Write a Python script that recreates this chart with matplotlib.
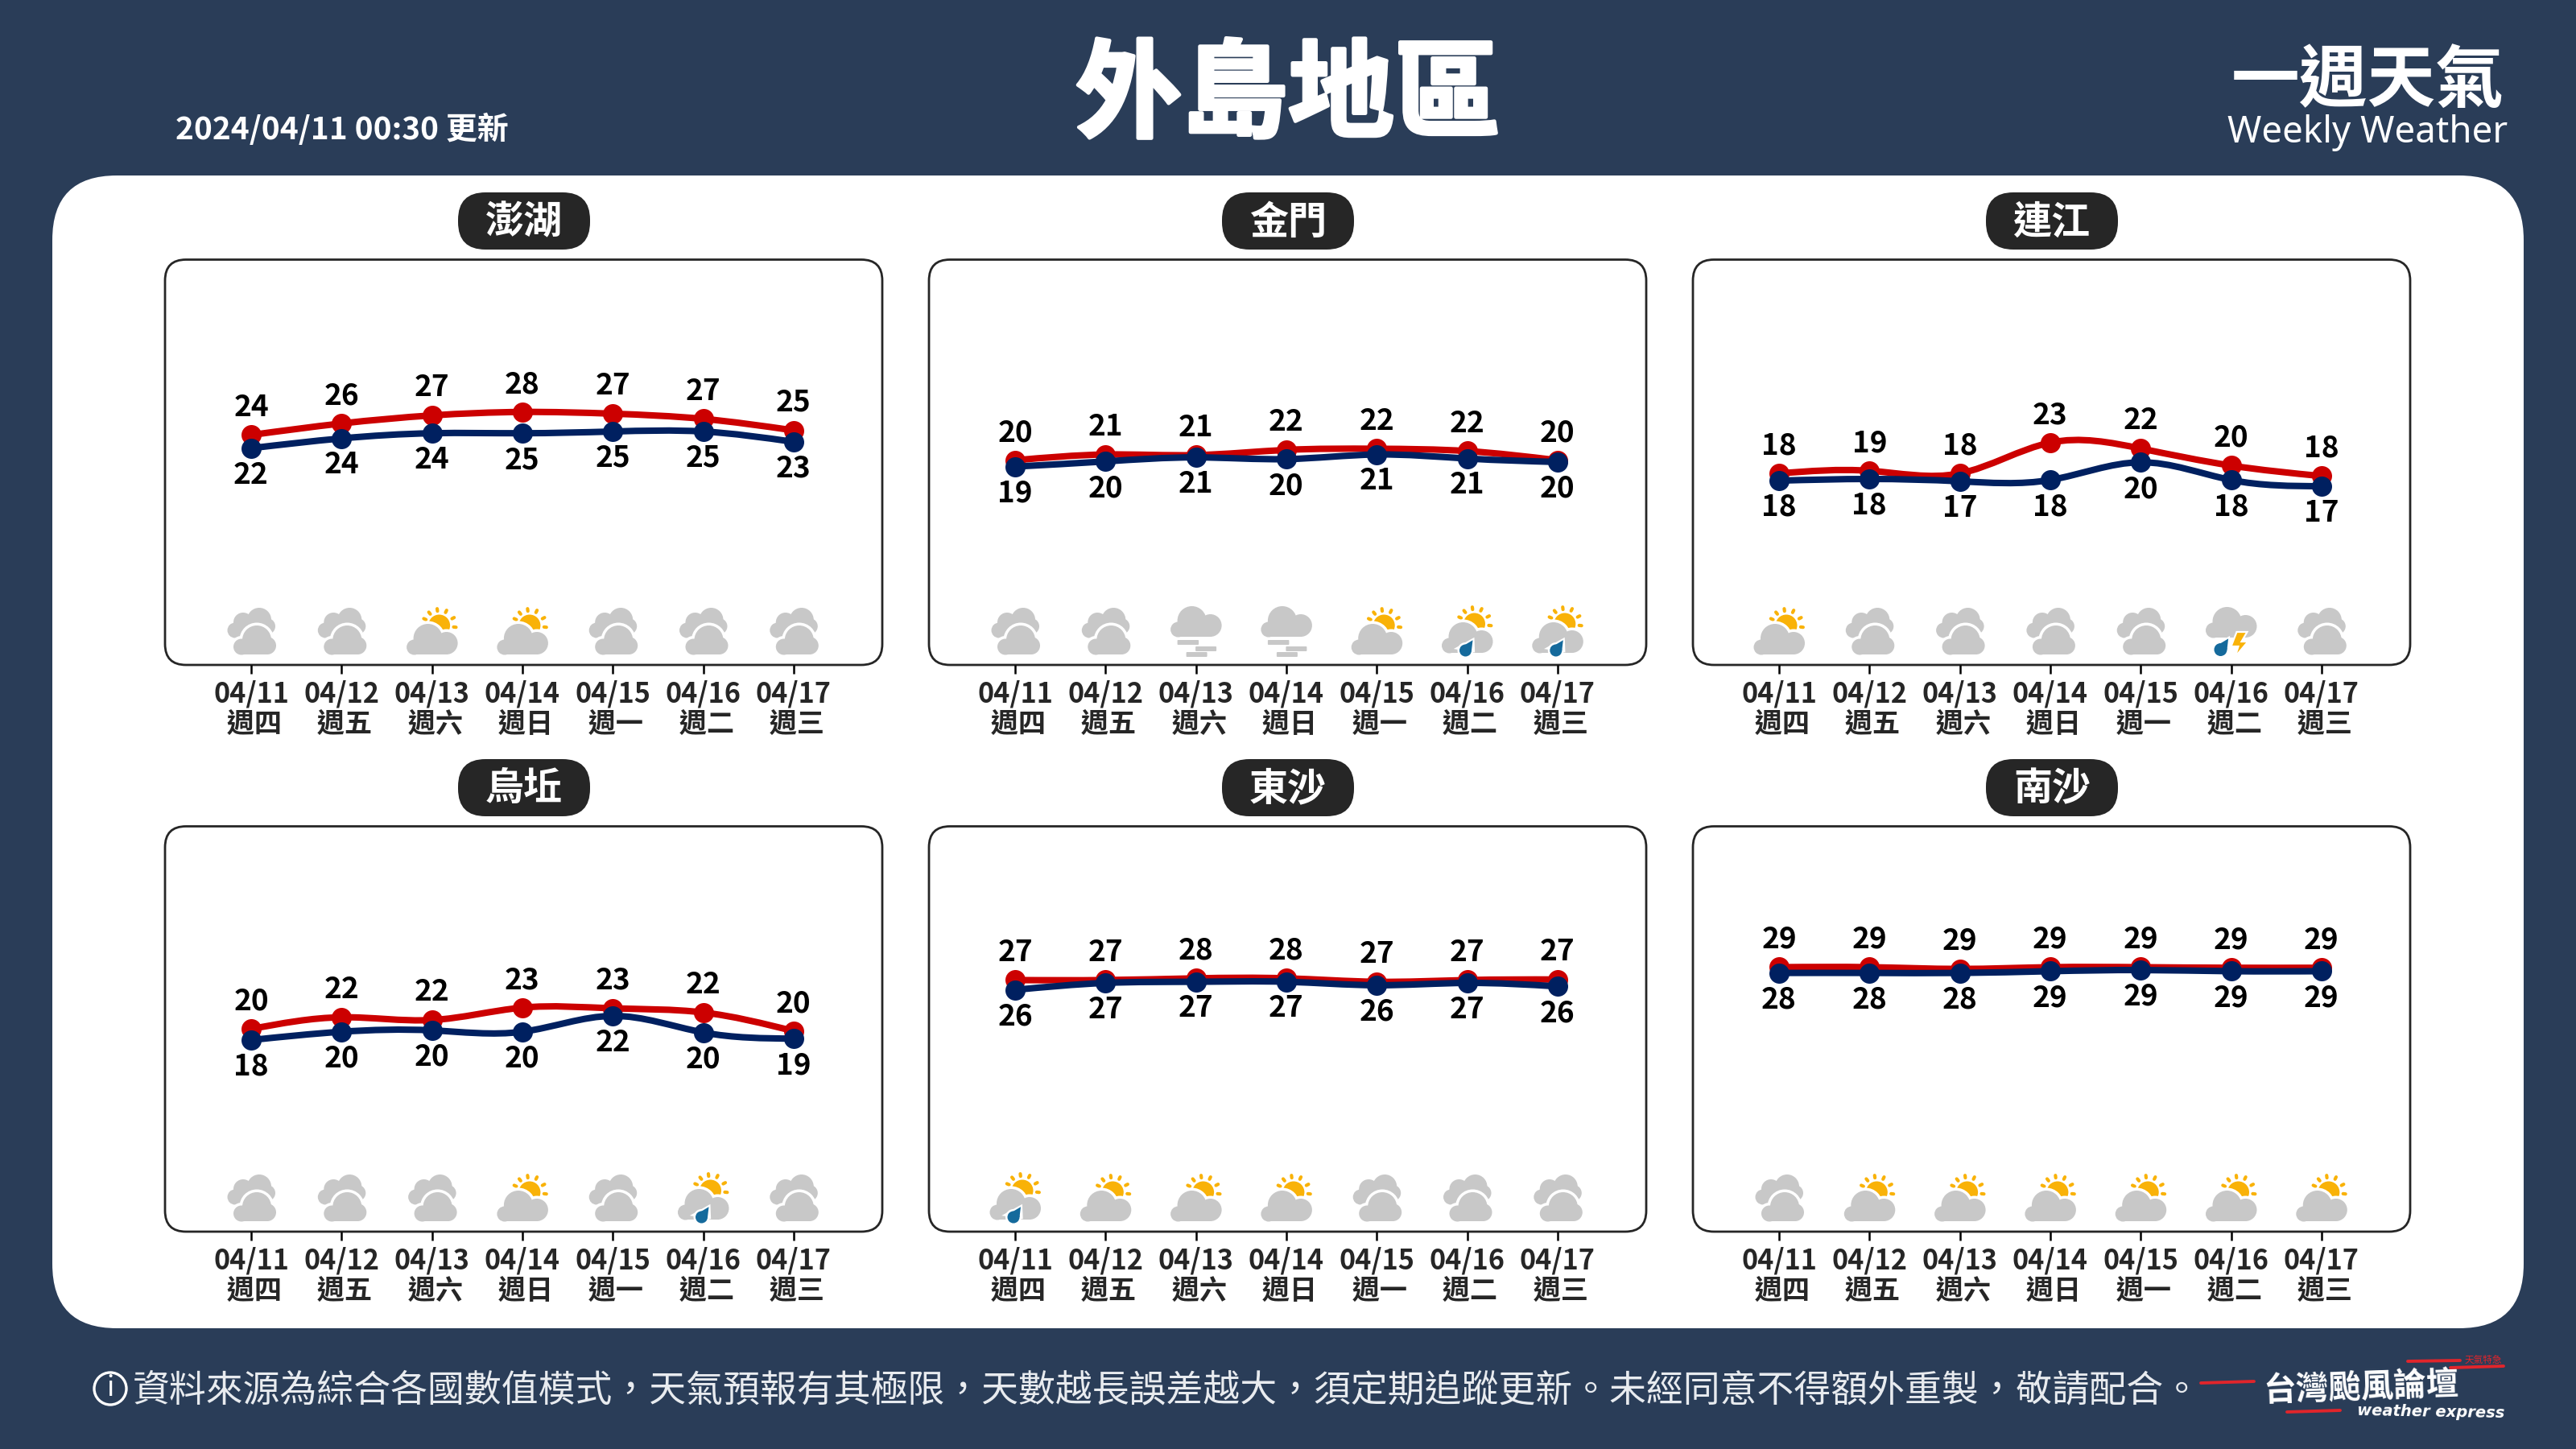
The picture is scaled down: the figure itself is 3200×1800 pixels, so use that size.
#!/usr/bin/env python3
# -*- coding: utf-8 -*-
"""外島地區 一週天氣"""

import numpy as np
import matplotlib
matplotlib.use('Agg')
import matplotlib.pyplot as plt
from matplotlib.patches import Circle, FancyBboxPatch, PathPatch, Polygon, Rectangle
from matplotlib.path import Path
import matplotlib.patheffects as pe

plt.rcParams['font.family'] = ['Noto Sans CJK TC', 'DejaVu Sans']

# ============================================================
# 資料
# ============================================================
dates = ['04/11', '04/12', '04/13', '04/14', '04/15', '04/16', '04/17']
weekdays = ['週四', '週五', '週六', '週日', '週一', '週二', '週三']

names = ['澎湖', '金門', '連江', '烏坵', '東沙', '南沙']

penghu_hi = [24.3, 26.3, 27.7, 28.3, 28.0, 27.1, 25.1]
penghu_lo = [22.0, 23.7, 24.6, 24.6, 24.9, 24.9, 23.1]
kinmen_hi = [20.0, 21.0, 20.9, 21.8, 22.0, 21.6, 20.0]
kinmen_lo = [18.9, 19.8, 20.5, 20.2, 21.0, 20.3, 19.7]
lienchiang_hi = [18.4, 18.8, 18.4, 23.1, 22.2, 19.6, 18.0]
lienchiang_lo = [17.3, 17.55, 17.2, 17.4, 20.1, 17.4, 16.45]
wuqiu_hi = [20.4, 22.1, 21.7, 23.5, 23.4, 22.8, 20.1]
wuqiu_lo = [18.8, 20.0, 20.2, 20.0, 22.3, 19.9, 19.0]
dongsha_hi = [27.3, 27.3, 27.6, 27.6, 27.0, 27.3, 27.4]
dongsha_lo = [25.6, 26.8, 27.0, 27.0, 26.4, 26.8, 26.2]
nansha_hi = [29.0, 29.0, 28.7, 29.0, 29.0, 28.9, 28.9]
nansha_lo = [28.0, 28.0, 28.0, 28.3, 28.5, 28.3, 28.3]

penghu_hi_lab = [24, 26, 27, 28, 27, 27, 25]
penghu_lo_lab = [22, 24, 24, 25, 25, 25, 23]
kinmen_hi_lab = [20, 21, 21, 22, 22, 22, 20]
kinmen_lo_lab = [19, 20, 21, 20, 21, 21, 20]
lienchiang_hi_lab = [18, 19, 18, 23, 22, 20, 18]
lienchiang_lo_lab = [18, 18, 17, 18, 20, 18, 17]
wuqiu_hi_lab = [20, 22, 22, 23, 23, 22, 20]
wuqiu_lo_lab = [18, 20, 20, 20, 22, 20, 19]
dongsha_hi_lab = [27, 27, 28, 28, 27, 27, 27]
dongsha_lo_lab = [26, 27, 27, 27, 26, 27, 26]
nansha_hi_lab = [29, 29, 29, 29, 29, 29, 29]
nansha_lo_lab = [28, 28, 28, 29, 29, 29, 29]

highs = [penghu_hi, kinmen_hi, lienchiang_hi, wuqiu_hi, dongsha_hi, nansha_hi]
lows = [penghu_lo, kinmen_lo, lienchiang_lo, wuqiu_lo, dongsha_lo, nansha_lo]
high_labels = [penghu_hi_lab, kinmen_hi_lab, lienchiang_hi_lab, wuqiu_hi_lab, dongsha_hi_lab, nansha_hi_lab]
low_labels = [penghu_lo_lab, kinmen_lo_lab, lienchiang_lo_lab, wuqiu_lo_lab, dongsha_lo_lab, nansha_lo_lab]

# cc 多雲 / sc 晴時多雲 / sr 午後雨 / fg 霧 / tr 雷雨
icons = [
    ['cc', 'cc', 'sc', 'sc', 'cc', 'cc', 'cc'],
    ['cc', 'cc', 'fg', 'fg', 'sc', 'sr', 'sr'],
    ['sc', 'cc', 'cc', 'cc', 'cc', 'tr', 'cc'],
    ['cc', 'cc', 'cc', 'sc', 'cc', 'sr', 'cc'],
    ['sr', 'sc', 'sc', 'sc', 'cc', 'cc', 'cc'],
    ['cc', 'sc', 'sc', 'sc', 'sc', 'sc', 'sc'],
]

y_limits = [(-15.7, 54.8), (-15.6, 54.9), (-10.8, 51), (-9, 49.8), (-16.4, 54), (-17, 53.5)]

BG = '#2A3D58'
RED = '#CC0000'
NAVY = '#002060'
GRAY = '#C8C8C8'
SUN = '#F9B208'
BLUE = '#156A9C'
DARK = '#262626'

W, H = 3200, 1800
STEP = 112.3

fig = plt.figure(figsize=(16, 9), dpi=200, facecolor=BG)
bg = fig.add_axes([0, 0, 1, 1], zorder=0)
bg.set_xlim(0, W)
bg.set_ylim(H, 0)
bg.axis('off')


def round_box(x0, y0, x1, y1, r, **kw):
    p = FancyBboxPatch((x0 + r, y0 + r), x1 - x0 - 2 * r, y1 - y0 - 2 * r,
                       boxstyle=f'round,pad={r},rounding_size={r}', **kw)
    bg.add_patch(p)
    return p


def blob(cx, lobes, rect, z, halo=False):
    # lobes: (dx, y, r)，rect: (dx0, dx1, y0, y1)
    x0, x1, y0, y1 = rect
    if halo:
        for a, b, r in lobes:
            bg.add_patch(Circle((cx + a, b), r + 3.5, fc='white', ec='none', zorder=z))
        bg.add_patch(Rectangle((cx + x0 - 3, y0), x1 - x0 + 6, y1 - y0 + 3, fc='white', ec='none', zorder=z))
    for a, b, r in lobes:
        bg.add_patch(Circle((cx + a, b), r, fc=GRAY, ec='none', zorder=z + 0.1))
    bg.add_patch(Rectangle((cx + x0, y0), x1 - x0, y1 - y0, fc=GRAY, ec='none', zorder=z + 0.1))


def cloud(cx, b, z, halo=False):
    blob(cx, [(-5, b - 20, 18), (18, b - 14, 14), (-22, b - 9, 9.5)], (-22, 18, b - 16, b), z, halo)


def sun(cx, cy, z):
    bg.add_patch(Circle((cx, cy), 13.5, fc=SUN, ec='none', zorder=z))
    for a in np.deg2rad([-6, 28, 64, 97, 128, 156]):
        bg.plot([cx + 18 * np.cos(a), cx + 21 * np.cos(a)], [cy - 18 * np.sin(a), cy - 21 * np.sin(a)],
                color=SUN, lw=1.5, solid_capstyle='round', zorder=z)


def drop(cx, cy, r, z):
    tip = (cx + r * 1.2, cy - r * 1.7)
    bg.add_patch(Circle((cx, cy), r + 2.5, fc='white', ec='none', zorder=z))
    bg.add_patch(Polygon([(cx - r - 1, cy - 3), tip, (cx + r + 2, cy)], fc='white', ec='white', lw=1.5, zorder=z))
    bg.add_patch(Circle((cx, cy), r, fc=BLUE, ec='none', zorder=z + 0.1))
    bg.add_patch(Polygon([(cx - r * 0.9, cy - r * 0.45), tip, (cx + r, cy)], fc=BLUE, ec='none', zorder=z + 0.1))


def draw_icon(kind, cx, dy):
    if kind == 'cc':
        blob(cx, [(10, 770 + dy, 15), (-10, 773 + dy, 12), (-20, 783 + dy, 9.5), (20, 778 + dy, 10)],
             (-20, 20, 775 + dy, 792 + dy), 2)
        blob(cx, [(7, 795 + dy, 18), (20, 802 + dy, 11), (-12, 803.5 + dy, 10)],
             (-12, 20, 800 + dy, 813 + dy), 3, halo=True)
    elif kind == 'sc':
        sun(cx + 9, 777 + dy, 2)
        cloud(cx, 813 + dy, 3, halo=True)
    elif kind == 'sr':
        sun(cx + 9, 775 + dy, 2)
        cloud(cx, 811 + dy, 3, halo=True)
        drop(cx - 2, 808 + dy, 7.5, 4)
    elif kind == 'fg':
        cloud(cx, 791 + dy, 2)
        for x0, x1, y0 in [(-23, 3.5, 795), (-0.5, 25.5, 803), (-12, 14, 810)]:
            bg.add_patch(FancyBboxPatch((cx + x0 + 1, y0 + dy + 1), x1 - x0 - 2, 4,
                                        boxstyle='round,pad=1,rounding_size=1', fc=GRAY, ec='none', zorder=2))
    elif kind == 'tr':
        cloud(cx, 792 + dy, 2)
        drop(cx - 13, 807 + dy, 8, 4)
        bolt = [(7, 785), (20, 785), (13, 797), (21, 797), (5, 816), (9, 803), (0, 803)]
        bg.add_patch(Polygon([(cx + a, b + dy) for a, b in bolt], fc=SUN, ec='white', lw=0.8, zorder=4))


def smooth_path(x, y):
    # 自然三次樣條，轉成 Bezier 後交給 PathPatch
    x, y = np.asarray(x, float), np.asarray(y, float)
    n = len(x)
    A = np.zeros((n, n))
    B = np.zeros(n)
    A[0, 0], A[0, 1], B[0] = 2, 1, 3 * (y[1] - y[0])
    A[-1, -1], A[-1, -2], B[-1] = 2, 1, 3 * (y[-1] - y[-2])
    for i in range(1, n - 1):
        A[i, i - 1], A[i, i], A[i, i + 1] = 1, 4, 1
        B[i] = 3 * (y[i + 1] - y[i - 1])
    d = np.linalg.solve(A, B)
    verts = [(x[0], y[0])]
    codes = [Path.MOVETO]
    for i in range(n - 1):
        verts += [(x[i] + 1 / 3, y[i] + d[i] / 3), (x[i + 1] - 1 / 3, y[i + 1] - d[i + 1] / 3), (x[i + 1], y[i + 1])]
        codes += [Path.CURVE4] * 3
    return Path(verts, codes)


# ============================================================
# 底圖與標題
# ============================================================
round_box(65, 218, 3135, 1650, 80, fc='white', ec='none', zorder=0.5)

bg.text(1600, 121, '外島地區', color='white', fontsize=47.5, fontweight='bold', ha='center', va='center',
        path_effects=[pe.withStroke(linewidth=1.6, foreground='white')])
bg.text(218, 161, '2024/04/11 00:30 更新', color='white', fontsize=14, fontweight='bold', ha='left', va='center')
bg.text(2941, 101, '一週天氣', color='white', fontsize=30.5, fontweight='bold', ha='center', va='center')
bg.text(2941, 177, 'Weekly Weather', color='white', fontsize=16.4, family=['Noto Sans', 'DejaVu Sans'],
        ha='center', va='baseline')

bg.add_patch(Circle((137, 1725), 20, fc='none', ec='white', lw=1.2))
bg.text(137, 1725, 'i', color='white', fontsize=12, ha='center', va='center')
bg.text(165, 1727, '資料來源為綜合各國數值模式，天氣預報有其極限，天數越長誤差越大，須定期追蹤更新。未經同意不得額外重製，敬請配合。',
        color='#E8EBEF', fontsize=16.5, ha='left', va='center')

bg.text(2933, 1724, '台灣颱風論壇', color='white', fontsize=14.6, fontweight='bold', rotation=2, ha='center', va='center')
bg.text(3020, 1754, 'weather express', color='white', fontsize=7, fontweight='bold', style='italic',
        family='DejaVu Sans', ha='center', va='center', rotation=-1)
bg.text(3085, 1689, '天氣特急', color='#E1252B', fontsize=4.2, ha='center', va='center')
for x0, x1, y0, y1 in [(2734, 2800, 1718, 1716), (2841, 2907, 1754, 1752),
                       (2991, 3056, 1691, 1690), (3044, 3110, 1699, 1697)]:
    bg.plot([x0, x1], [y0, y1], color='#E1252B', lw=1.4, solid_capstyle='round')

# ============================================================
# 六個測站
# ============================================================
for i, name in enumerate(names):
    col, row = i % 3, i // 3
    dx, dy = col * 949, row * 704
    left, right, top, bottom = 205 + dx, 1096 + dx, 322.5 + dy, 826 + dy

    round_box(left, top, right, bottom, 26, fc='white', ec=DARK, lw=1.0, zorder=1)
    round_box(569 + dx, 239 + dy, 733 + dx, 310 + dy, 34, fc=DARK, ec='none', zorder=1)
    bg.text(651 + dx, 276 + dy, name, color='white', fontsize=17.3, fontweight='bold', ha='center', va='center', zorder=2)

    ax = fig.add_axes([left / W, 1 - bottom / H, (right - left) / W, (bottom - top) / H], zorder=5)
    ax.patch.set_alpha(0)
    for s in ax.spines.values():
        s.set_visible(False)
    ax.set_xlim((left - 312 - dx) / STEP, (right - 312 - dx) / STEP)
    ax.set_ylim(*y_limits[i])
    ax.set_yticks([])
    xs = np.arange(len(dates))
    ax.set_xticks(xs)
    ax.set_xticklabels([f'{d}\n {w}' for d, w in zip(dates, weekdays)], fontsize=12.3, fontweight='bold',
                       color=DARK, linespacing=1.12)
    ax.tick_params(axis='x', length=3.8, width=0.9, color='black', pad=3)

    ax.add_patch(PathPatch(smooth_path(xs, highs[i]), fc='none', ec=RED, lw=2.9, zorder=3))
    ax.plot(xs, highs[i], 'o', color=RED, ms=9, mec='none', zorder=3)
    ax.add_patch(PathPatch(smooth_path(xs, lows[i]), fc='none', ec=NAVY, lw=2.9, zorder=4))
    ax.plot(xs, lows[i], 'o', color=NAVY, ms=9, mec='none', zorder=4)

    for x, v, lab in zip(xs, highs[i], high_labels[i]):
        ax.annotate(str(lab), (x, v), xytext=(0, 12.3), textcoords='offset points', ha='center', va='center',
                    fontsize=13.3, fontweight='bold', color='black', zorder=6)
    for x, v, lab in zip(xs, lows[i], low_labels[i]):
        ax.annotate(str(lab), (x, v), xytext=(0, -12), textcoords='offset points', ha='center', va='center',
                    fontsize=13.3, fontweight='bold', color='black', zorder=6)

    for j, kind in enumerate(icons[i]):
        draw_icon(kind, 312 + dx + j * STEP, dy)

fig.savefig('out.png', dpi=200, facecolor=BG)
